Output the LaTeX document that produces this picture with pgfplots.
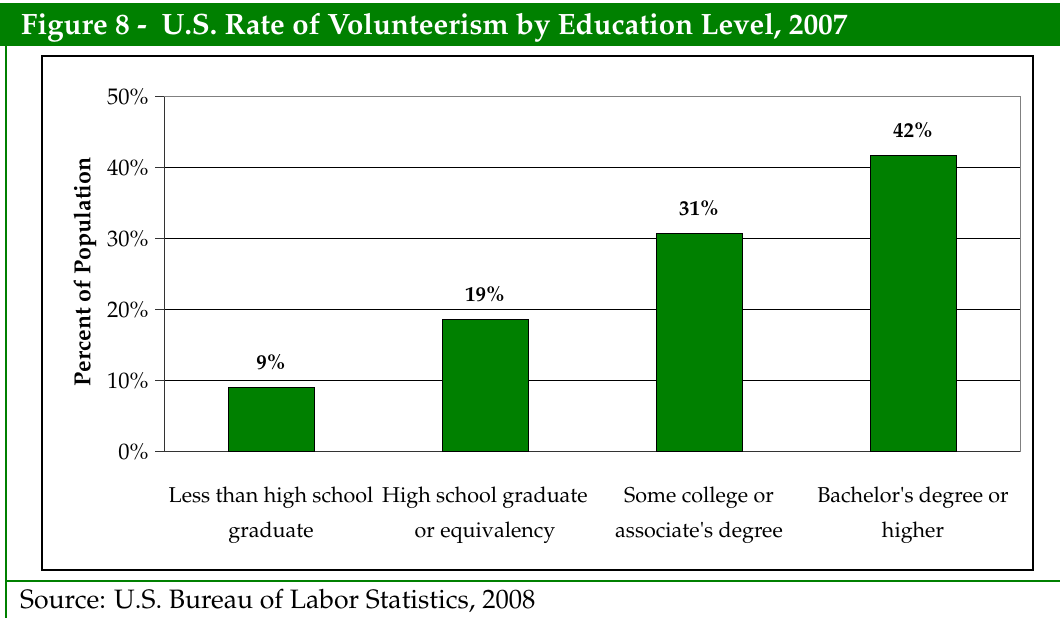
\documentclass[border=0pt]{standalone}
\usepackage[T1]{fontenc}
\usepackage{mathpazo}
\usepackage{pgfplots}
\pgfplotsset{compat=1.18}
\definecolor{fgreen}{RGB}{0,128,0}
\begin{document}
\begin{tikzpicture}[x=1pt,y=1pt]
\path[use as bounding box] (0,0) rectangle (1060,618);
% title bar
\fill[fgreen] (0,572) rectangle (1060,615);
\node[anchor=base west,text=white,inner sep=0pt,font=\fontsize{29.4}{34}\selectfont\bfseries] at (21,583) {Figure 8 -\ \ U.S. Rate of Volunteerism by Education Level, 2007};
% green frame lines
\draw[fgreen,line width=2pt] (6,0) -- (6,572);
\draw[fgreen,line width=2pt] (5,36.5) -- (1060,36.5);
\node[anchor=base west,inner sep=0pt,font=\fontsize{26.6}{30}\selectfont] at (20,9) {Source: U.S. Bureau of Labor Statistics, 2008};
% inner frame
\draw[black,line width=1.5pt] (42,48) rectangle (1033,562);
\begin{axis}[
  at={(164pt,166.3pt)}, anchor=south west, scale only axis,
  width=856pt, height=355pt,
  xmin=-0.5, xmax=3.5, ymin=0, ymax=50,
  axis x line*=bottom, axis y line*=left,
  axis line style={black!80, line width=1pt},
  ytick={0,10,20,30,40,50},
  yticklabel={\pgfmathprintnumber{\tick}\%},
  /pgf/number format/assume math mode=true,
  tick align=outside,
  major tick length=9pt,
  y tick style={black!80, line width=1pt},
  ymajorgrids, grid style={black, line width=0.8pt},
  xtick={0,1,2,3},
  xticklabels={Less than high school\\graduate, High school graduate\\or equivalency, Some college or\\associate\textquotesingle s degree, Bachelor\textquotesingle s degree or\\higher},
  x tick style={draw=none},
  minor xtick={-0.5,0.5,1.5,2.5,3.5},
  minor tick length=8pt,
  minor x tick style={black!80, line width=1pt},
  ticklabel style={font=\fontsize{21.5}{35}\selectfont},
  yticklabel style={font=\fontsize{22.5}{26}\selectfont, xshift=-3pt},
  xticklabel style={align=center, yshift=-23pt},
  ybar, bar width=86pt,
  nodes near coords,
  point meta=explicit symbolic,
  nodes near coords style={font=\fontsize{21}{24}\selectfont\bfseries, anchor=south, yshift=14pt},
  clip=false,
]
\addplot[fill=fgreen, draw=black, line width=1pt] coordinates {
  (0,9.0) [9\%]
  (1,18.6) [19\%]
  (2,30.7) [31\%]
  (3,41.7) [42\%]
};
\draw[gray, line width=1pt] (axis cs:-0.5,50) -- (axis cs:3.5,50) -- (axis cs:3.5,0);
\end{axis}
\node[rotate=90, font=\fontsize{23.2}{26}\selectfont\bfseries] at (85,346) {Percent of Population};
\end{tikzpicture}
\end{document}
